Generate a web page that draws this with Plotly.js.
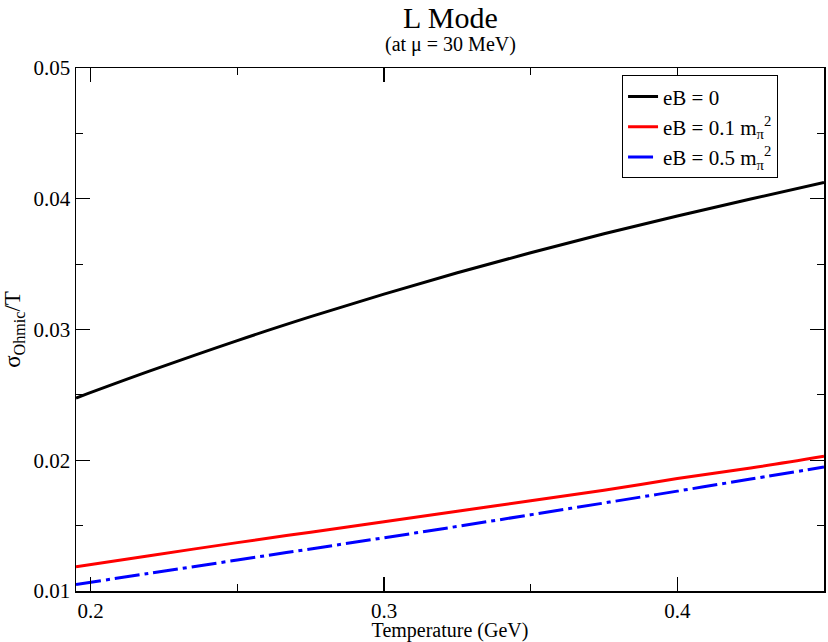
<!DOCTYPE html>
<html>
<head>
<meta charset="utf-8">
<script src="https://cdn.plot.ly/plotly-3.0.1.min.js"></script>
<style>
  html, body { margin: 0; padding: 0; background: #fff; }
  #chart { width: 828px; height: 642px; }
</style>
</head>
<body>
<div id="chart"></div>
<script>
// temperature grid (GeV)
var temps = [0.195, 0.22, 0.25, 0.275, 0.30, 0.325, 0.35, 0.375, 0.40, 0.425, 0.45];

// sigma_Ohmic / T for each field strength
var eb0   = [0.02476, 0.02681, 0.02915, 0.03098, 0.03271, 0.03434, 0.03587, 0.03732, 0.03868, 0.03998, 0.04124];
var eb01  = [0.01186, 0.0127, 0.0137, 0.0145, 0.0153, 0.0161, 0.0169, 0.0177, 0.0186, 0.0194, 0.0203];
var eb05  = [0.0105, 0.01135, 0.01237, 0.01322, 0.01407, 0.01494, 0.01583, 0.01673, 0.01764, 0.01856, 0.01948];

var names = ['eB = 0', 'eB = 0.1 m<sub>π</sub><sup>2</sup>', 'eB = 0.5 m<sub>π</sub><sup>2</sup>'];

var serif = 'Liberation Serif, Times New Roman, serif';

var traces = [
  {x: temps, y: eb0, name: names[0], mode: 'lines', line: {color: '#000000', width: 3, shape: 'spline'}},
  {x: temps, y: eb01, name: names[1], mode: 'lines', line: {color: '#ff0000', width: 3, shape: 'spline'}},
  {x: temps, y: eb05, name: names[2], mode: 'lines', line: {color: '#0000ff', width: 3, shape: 'spline', dash: '25px,5px,4px,5px'}}
];

var axis_common = {
  showgrid: false, zeroline: false,
  showline: true, linecolor: '#000', linewidth: 1.5, mirror: 'ticks',
  ticks: 'inside', ticklen: 14, tickwidth: 1.2, tickcolor: '#000',
  tickfont: {family: serif, size: 21, color: '#000'}
};

var layout = {
  width: 828, height: 642,
  margin: {l: 76, r: 4, t: 68, b: 51},
  paper_bgcolor: '#fff', plot_bgcolor: '#fff',
  font: {family: serif, color: '#000'},
  xaxis: Object.assign({}, axis_common, {
    range: [0.195, 0.45], dtick: 0.1, tick0: 0.2,
    minor: {dtick: 0.05, ticks: 'inside', ticklen: 7, tickwidth: 1.2, tickcolor: '#000'},
    title: {text: 'Temperature (GeV)', font: {family: serif, size: 20, color: '#000'}, standoff: 3}
  }),
  yaxis: Object.assign({}, axis_common, {
    range: [0.01, 0.05], dtick: 0.01, tick0: 0.01,
    minor: {dtick: 0.005, ticks: 'inside', ticklen: 7, tickwidth: 1.2, tickcolor: '#000'},
    title: {text: 'σ<sub>Ohmic</sub>/T', font: {family: serif, size: 23, color: '#000'}, standoff: 6}
  }),
  annotations: [
    {text: 'L Mode', xref: 'paper', yref: 'paper', x: 0.5, y: 1.097, xanchor: 'center', yanchor: 'middle',
     showarrow: false, font: {family: serif, size: 30, color: '#000'}},
    {text: '(at μ = 30 MeV)', xref: 'paper', yref: 'paper', x: 0.5, y: 1.044, xanchor: 'center', yanchor: 'middle',
     showarrow: false, font: {family: serif, size: 20, color: '#000'}}
  ],
  legend: {
    x: 0.73, y: 0.986, xanchor: 'left', yanchor: 'top',
    bgcolor: '#fff', bordercolor: '#000', borderwidth: 1,
    font: {family: serif, size: 21, color: '#000'}
  },
  showlegend: true
};

Plotly.newPlot('chart', traces, layout, {staticPlot: true});
</script>
</body>
</html>
